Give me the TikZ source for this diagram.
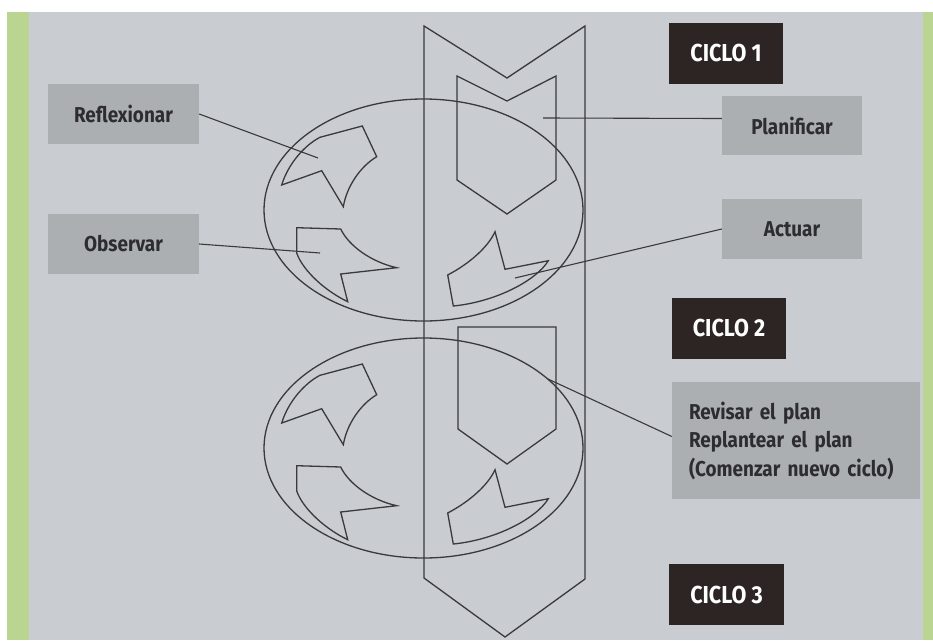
\documentclass[tikz,border=0pt]{standalone}
\usepackage{fontspec}
\setmainfont{Fira Sans}[FakeStretch=0.88]
\definecolor{bgc}{RGB}{201,204,208}
\definecolor{greenc}{RGB}{186,212,146}
\definecolor{labelc}{RGB}{172,175,178}
\definecolor{darkc}{RGB}{44,37,35}
\definecolor{linec}{RGB}{58,58,60}
\definecolor{textc}{RGB}{45,45,48}
\begin{document}
\begin{tikzpicture}[x=1pt,y=-1pt,
  shapeline/.style={draw=linec, line width=1.3pt, line join=miter},
  conn/.style={draw=linec, line width=1.1pt},
  labelbox/.style={fill=labelc, text=textc, font=\bfseries\fontsize{21.5}{26}\selectfont, inner sep=0pt, minimum width=151pt, minimum height=60pt},
  ciclobox/.style={fill=darkc, text=white, font=\bfseries\fontsize{24.5}{30}\selectfont, inner sep=0pt, minimum width=114pt, minimum height=61pt},
  cycshapes/.pic={
    \draw[shapeline] (281.7,185) -- (321.7,170.7) -- (343.3,206.7)
      .. controls (346.7,186.7) and (360,166.7) .. (376.7,156.7)
      -- (362.3,126) -- (320,137.3)
      .. controls (305,145) and (288.3,163.3) .. (281.7,185) -- cycle;
    \draw[shapeline] (296.7,227.7) -- (340.7,229)
      .. controls (348.3,245) and (370,261.7) .. (396.7,267.7)
      -- (340.7,274) -- (347.7,301.7)
      .. controls (326.7,291.7) and (303.3,271.7) .. (296.7,253) -- cycle;
    \draw[shapeline] (495,231.7) -- (505,269.3) -- (548.3,260.7)
      .. controls (536.7,280) and (496.7,301.7) .. (453.3,306)
      -- (447.7,275)
      .. controls (470,263.3) and (488.3,246.7) .. (495,231.7) -- cycle;
  }]
% background
\fill[white] (0,0) rectangle (933,640);
\fill[greenc] (7,12) rectangle (29,640);
\fill[greenc] (923,12) rectangle (933,640);
\fill[bgc] (29,12) rectangle (923,640);
\useasboundingbox (0,0) rectangle (933,640);

% big chevron strip
\draw[shapeline] (424,26) -- (507,78) -- (585,26) -- (585,579) -- (505,637) -- (424,578) -- cycle;
% inner pentagons
\draw[shapeline] (457,76) -- (507,101) -- (556,76) -- (556,180) -- (507,214) -- (457,180) -- cycle;
\draw[shapeline] (458,327) -- (556,327) -- (556,429) -- (507,464) -- (458,429) -- cycle;
% ellipses
\draw[shapeline] (423.5,210) ellipse [x radius=159.5, y radius=111];
\draw[shapeline] (423.5,448) ellipse [x radius=159.5, y radius=110];
% cycle arrow shapes
\pic at (0,0) {cycshapes};
\pic at (0,238) {cycshapes};

% labels
\node[labelbox] (refl) at (123.5,114) {Reflexionar};
\node[labelbox] (obs) at (123.5,244) {Observar};
\node[labelbox, minimum width=140pt, minimum height=59pt] (plan) at (792,125.5) {Planificar};
\node[labelbox, minimum width=140pt] (act) at (792,229) {Actuar};
\node[labelbox, minimum width=248pt, minimum height=117pt, align=left, text width=214pt, font=\bfseries\fontsize{21.5}{28.5}\selectfont] (rev) at (796,440.5) {Revisar el plan\\Replantear el plan\\(Comenzar nuevo ciclo)};
\node[ciclobox] (c1) at (726,53.5) {CICLO 1};
\node[ciclobox] (c2) at (729,328.5) {CICLO 2};
\node[ciclobox, minimum width=115pt] (c3) at (726.5,594.5) {CICLO 3};

% connector free ends
\coordinate (rE) at (318,158);
\coordinate (oE) at (320,253);
\coordinate (pE) at (543,118);
\coordinate (aE) at (515,278);
\coordinate (vE) at (548,379);

\draw[conn] (refl.east) -- (rE);
\draw[conn] (obs.east) -- (oE);
\draw[conn] ([yshift=7pt]plan.west) -- (pE);
\draw[conn] (act.west) -- (aE);
\draw[conn] ([yshift=4pt]rev.west) -- (vE);
\end{tikzpicture}
\end{document}
